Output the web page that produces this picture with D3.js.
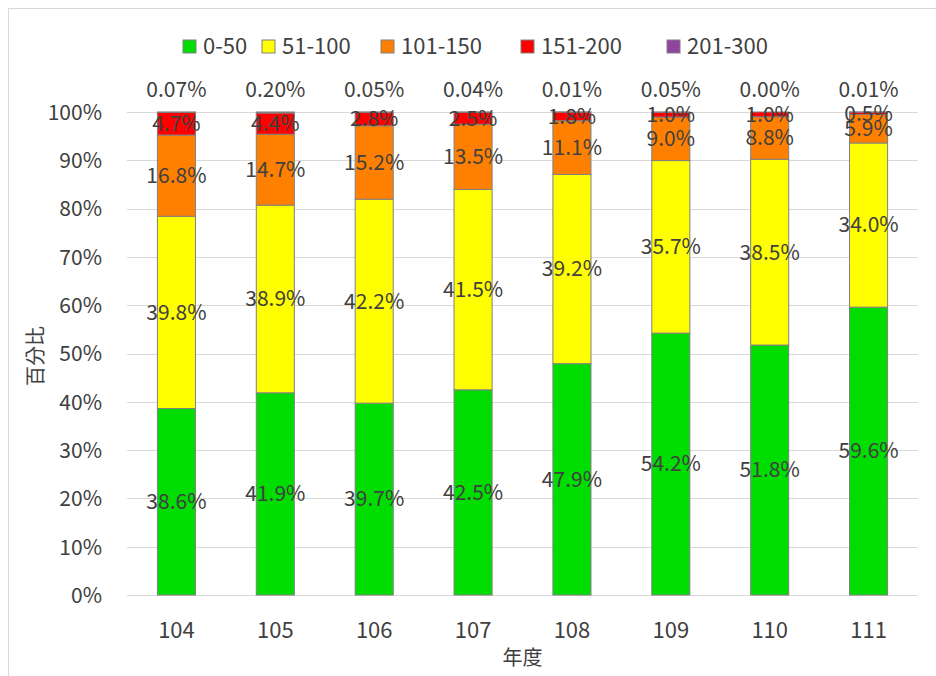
<!DOCTYPE html>
<html><head><meta charset="utf-8">
<script src="https://cdn.jsdelivr.net/npm/d3@7"></script>
<style>body{margin:0;background:#fff;} text{font-family:"Noto Sans CJK TC","Noto Sans",sans-serif;}</style>
</head><body><svg id="c" width="936" height="676"></svg>
<script>
const categories = ["104","105","106","107","108","109","110","111"];
const seriesNames = ["0-50","51-100","101-150","151-200","201-300"];
const s0_50    = [38.6, 41.9, 39.7, 42.5, 47.9, 54.2, 51.8, 59.6];
const s51_100  = [39.8, 38.9, 42.2, 41.5, 39.2, 35.7, 38.5, 34.0];
const s101_150 = [16.8, 14.7, 15.2, 13.5, 11.1, 9.0, 8.8, 5.9];
const s151_200 = [4.7, 4.4, 2.8, 2.5, 1.8, 1.0, 1.0, 0.5];
const s201_300 = [0.07, 0.20, 0.05, 0.04, 0.01, 0.05, 0.00, 0.01];
const yTicks = [0,10,20,30,40,50,60,70,80,90,100];
const colors = ["#00dd00","#ffff00","#ff8000","#ff0000","#8e44a0"];

const seriesVals = [s0_50, s51_100, s101_150, s151_200, s201_300];
const rows = categories.map((c,i)=>{
  const r = {cat:c};
  const tot = d3.sum(seriesVals, s=>s[i]);
  seriesNames.forEach((n,k)=>{ r[n] = seriesVals[k][i]/tot*100; r[n+"_raw"] = seriesVals[k][i]; });
  return r;
});
const stacked = d3.stack().keys(seriesNames)(rows);

const svg = d3.select("#c");
svg.append("rect").attr("x",8.5).attr("y",8.5).attr("width",940).attr("height",680)
  .attr("fill","#fff").attr("stroke","#d9d9d9");

const pL=127, pR=918, pT=112, pB=595;
const x = d3.scaleBand().domain(categories).range([pL,pR]).paddingInner(0.615).paddingOuter(0.3075);
const y = d3.scaleLinear().domain([0,100]).range([pB,pT]);

// gridlines
svg.append("g").selectAll("line").data(yTicks).join("line")
  .attr("x1",pL).attr("x2",pR).attr("y1",d=>Math.round(y(d))+0.5).attr("y2",d=>Math.round(y(d))+0.5)
  .attr("stroke","#d9d9d9").attr("stroke-width",1);

// y axis labels
const yAxis = d3.axisLeft(y).tickValues(yTicks).tickFormat(d=>d+"%").tickSize(0).tickPadding(0);
const gy = svg.append("g").attr("transform",`translate(${pL-25},0)`).call(yAxis);
gy.select(".domain").remove();
gy.selectAll("text").attr("font-size",21).attr("fill","#404040").attr("dy","0.35em")
  .style("font-family",'"Noto Sans CJK TC","Noto Sans",sans-serif');

// x axis labels
const xAxis = d3.axisBottom(x).tickSize(0).tickPadding(0);
const gx = svg.append("g").attr("transform",`translate(0,${pB+35})`).call(xAxis);
gx.select(".domain").remove();
gx.selectAll("text").attr("font-size",22).attr("fill","#404040").attr("dy","0.35em")
  .style("font-family",'"Noto Sans CJK TC","Noto Sans",sans-serif');

// bars
const groups = svg.append("g").selectAll("g").data(stacked).join("g")
  .attr("fill",(d,i)=>colors[i]);
groups.selectAll("rect").data(d=>d).join("rect")
  .attr("x",d=>x(d.data.cat)).attr("width",x.bandwidth())
  .attr("y",d=>y(d[1])).attr("height",d=>Math.max(0,y(d[0])-y(d[1])))
  .attr("stroke","#808080").attr("stroke-width",1);

// segment labels
stacked.forEach((layer,k)=>{
  const name = seriesNames[k];
  svg.append("g").selectAll("text").data(layer).join("text")
    .attr("x",d=>x(d.data.cat)+x.bandwidth()/2)
    .attr("y",d=> k===4 ? pT-22 : y((d[0]+d[1])/2))
    .attr("dy","0.35em")
    .attr("text-anchor","middle").attr("font-size",21).attr("fill","#404040")
    .text(d=> k===4 ? d.data[name+"_raw"].toFixed(2)+"%" : d.data[name+"_raw"].toFixed(1)+"%");
});

// axis titles
svg.append("text").attr("transform","translate(36,356) rotate(-90)")
  .attr("dy","0.35em").attr("text-anchor","middle").attr("font-size",20).attr("fill","#404040").text("百分比");
svg.append("text").attr("x",(pL+pR)/2).attr("y",658).attr("dy","0.35em")
  .attr("text-anchor","middle").attr("font-size",20).attr("fill","#404040").text("年度");

// legend
const legendX = [183, 262, 381, 521, 667];
const lg = svg.append("g").selectAll("g").data(seriesNames).join("g")
  .attr("transform",(d,i)=>`translate(${legendX[i]},46)`);
lg.append("rect").attr("x",0).attr("y",-6).attr("width",13).attr("height",13)
  .attr("fill",(d,i)=>colors[i]).attr("stroke","#808080");
lg.append("text").attr("x",20).attr("y",0).attr("dy","0.35em").attr("font-size",22)
  .attr("fill","#404040").text(d=>d);
</script></body></html>
